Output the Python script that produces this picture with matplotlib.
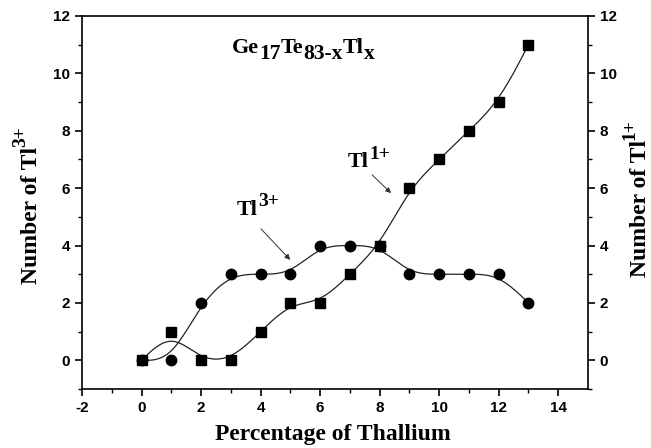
import numpy as np
import matplotlib
matplotlib.use("Agg")
import matplotlib.pyplot as plt
from matplotlib.font_manager import FontProperties
from matplotlib.transforms import offset_copy

x_pct = [0, 1, 2, 3, 4, 5, 6, 7, 8, 9, 10, 11, 12, 13]
tl3 = [0, 0, 2, 3, 3, 3, 4, 4, 4, 3, 3, 3, 3, 2]
tl1 = [0, 1, 0, 0, 1, 2, 2, 3, 4, 6, 7, 8, 9, 11]
x_ticks = [-2, 0, 2, 4, 6, 8, 10, 12, 14]
y_ticks = [0, 2, 4, 6, 8, 10, 12]


def bspline(xs, ys, n=40):
    px = np.r_[[xs[0]] * 2, xs, [xs[-1]] * 2].astype(float)
    py = np.r_[[ys[0]] * 2, ys, [ys[-1]] * 2].astype(float)
    t = np.linspace(0, 1, n)
    b0 = (1 - t) ** 3 / 6
    b1 = (3 * t ** 3 - 6 * t ** 2 + 4) / 6
    b2 = (-3 * t ** 3 + 3 * t ** 2 + 3 * t + 1) / 6
    b3 = t ** 3 / 6
    ox, oy = [], []
    for i in range(len(px) - 3):
        ox.append(b0 * px[i] + b1 * px[i + 1] + b2 * px[i + 2] + b3 * px[i + 3])
        oy.append(b0 * py[i] + b1 * py[i + 1] + b2 * py[i + 2] + b3 * py[i + 3])
    return np.concatenate(ox), np.concatenate(oy)


fig = plt.figure(figsize=(6.51, 4.48), dpi=100)
ax = fig.add_axes([82 / 651, 1 - 389 / 448, (588 - 82) / 651, (389 - 16) / 448])
renderer = fig.canvas.get_renderer()


def rich(x, y, pieces, transform, rotation=0, center=False):
    """pieces: list of (text, fontsize_pt, shift_pt)."""
    texts, offs = [], []
    off = 0.0
    for s, size, dy in pieces:
        t = fig.text(x, y, s, rotation=rotation, rotation_mode="anchor",
                     ha="left", va="baseline", fontsize=size,
                     family="Liberation Serif", weight="bold", transform=transform)
        bb = t.get_window_extent(renderer)
        texts.append((t, dy))
        offs.append(off)
        off += (bb.width if rotation == 0 else bb.height) * 72 / fig.dpi
    start = -off / 2 if center else 0.0
    for (t, dy), o in zip(texts, offs):
        if rotation == 0:
            tr = offset_copy(transform, fig=fig, x=start + o, y=dy, units="points")
        else:
            tr = offset_copy(transform, fig=fig, x=-dy, y=start + o, units="points")
        t.set_transform(tr)


sx, sy = bspline(x_pct, tl3)
ax.plot(sx, sy, color="#222222", lw=0.9)
sx, sy = bspline(x_pct, tl1)
ax.plot(sx, sy, color="#222222", lw=0.9)
ax.plot(x_pct, tl3, "o", color="black", ms=7.5)
ax.plot(x_pct, tl1, "s", color="black", ms=6.5)

ax.set_xlim(-2, 15)
ax.set_ylim(-1, 12)
ax.set_xticks(x_ticks)
ax.set_xticks(np.arange(-1, 15, 2), minor=True)
ax.set_yticks(y_ticks)
ax.set_yticks(np.arange(-1, 12.1, 2), minor=True)

tickfp = FontProperties(family="Liberation Sans", weight="bold", size=11)
ax.set_xticklabels([str(v) for v in x_ticks])
ax.set_yticklabels([str(v) for v in y_ticks])
ax.tick_params(which="major", direction="out", length=5, width=1.2, right=True, labelright=True)
ax.tick_params(which="minor", direction="out", length=3, width=1.0, right=True)
for t in ax.xaxis.get_major_ticks():
    t.label1.set_fontproperties(tickfp)
for t in ax.yaxis.get_major_ticks():
    t.label1.set_fontproperties(tickfp)
    t.label2.set_fontproperties(tickfp)
for s in ax.spines.values():
    s.set_linewidth(1.2)

# axis labels
fig.text(332.5 / 651, 1 - 440 / 448, "Percentage of Thallium", ha="center", va="baseline",
         fontsize=17, family="Liberation Serif", weight="bold")
rich(37 / 651, 1 - 205 / 448, [("Number of Tl", 17, 0), ("3+", 14, 8.5)],
     fig.transFigure, rotation=90, center=True)
rich(646 / 651, 1 - 198 / 448, [("Number of Tl", 17, 0), ("1+", 14, 8.5)],
     fig.transFigure, rotation=90, center=True)

# in-plot texts (positions in data units)
rich(3.04, 10.71, [("Ge", 16, 0), ("17", 15.5, -4.5), ("Te", 16, 0), ("83-x", 15.5, -4.5),
                   ("Tl", 16, 0), ("x", 15.5, -4.5)], ax.transData)
rich(3.21, 5.06, [("Tl", 16, 0), ("3+", 14, 6.5)], ax.transData)
rich(6.94, 6.74, [("Tl", 16, 0), ("1+", 14, 6.0)], ax.transData)

ax.annotate("", xy=(5.06, 3.43), xytext=(3.95, 4.65),
            arrowprops=dict(arrowstyle="-|>", color="#333333", lw=0.7, mutation_scale=8))
ax.annotate("", xy=(8.45, 5.76), xytext=(7.68, 6.53),
            arrowprops=dict(arrowstyle="-|>", color="#333333", lw=0.7, mutation_scale=8))

fig.savefig("out.png", dpi=100)
